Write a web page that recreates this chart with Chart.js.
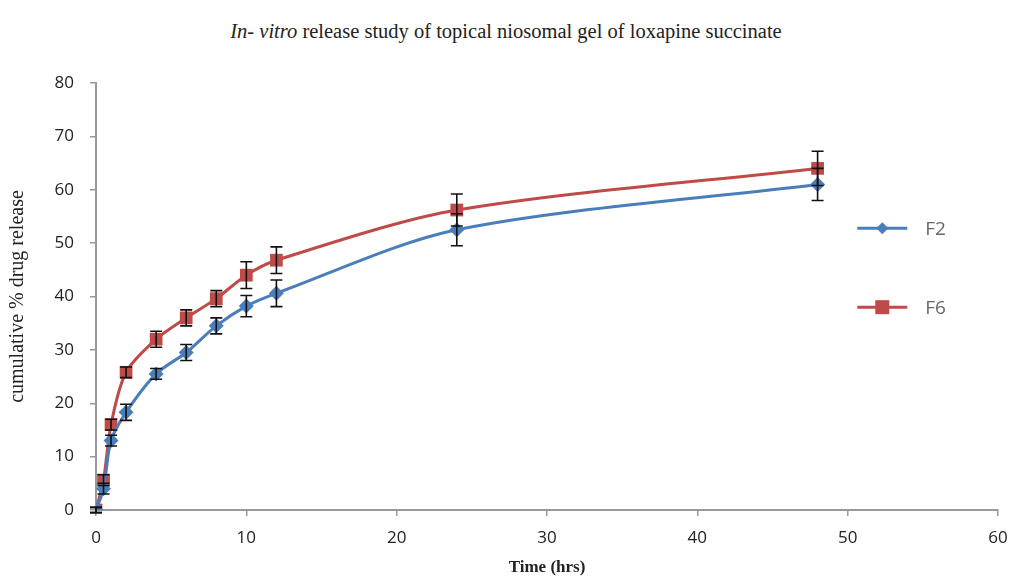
<!DOCTYPE html>
<html>
<head>
<meta charset="utf-8">
<script src="https://cdn.jsdelivr.net/npm/chart.js@4/dist/chart.umd.min.js"></script>
<style>
  html, body { margin: 0; padding: 0; background: #fff; }
  #wrap { position: relative; width: 1012px; height: 580px; }
  #chart-title {
    position: absolute; left: 0; top: 20px; width: 1012px; text-align: center;
    font-family: "Liberation Serif", "DejaVu Serif", serif; font-size: 20.5px; color: #222;
  }
  canvas { position: absolute; left: 0; top: 0; }
</style>
</head>
<body>
<div id="wrap">
  <div id="chart-title"><i>In- vitro</i> release study of topical niosomal gel of loxapine succinate</div>
  <canvas id="releaseChart" width="1012" height="580"></canvas>
</div>
<script>
// time points (hrs)
const timePoints = [0, 0.5, 1, 2, 4, 6, 8, 10, 12, 24, 48];

// cumulative % drug release
const f2Values = [0, 4, 13, 18.3, 25.5, 29.5, 34.5, 38.2, 40.6, 52.5, 61];
const f6Values = [0, 5.6, 16, 25.8, 32, 36, 39.6, 44, 46.8, 56.2, 64];

// standard deviation (error bars)
const f2Errors = [0.5, 1, 1, 1.5, 1, 1.5, 1.5, 2, 2.5, 3, 3];
const f6Errors = [0.5, 1, 1, 1, 1.5, 1.5, 1.5, 2.5, 2.5, 3, 3.2];

const seriesLabels = ["F2", "F6"];
const seriesColors = ["#4a7ebb", "#be4b48"];

const toPoints = (vals) => vals.map((v, i) => ({ x: timePoints[i], y: v }));

// draws vertical error bars with caps
const errorBarPlugin = {
  id: "errorBars",
  afterDatasetsDraw(chart) {
    const ctx = chart.ctx;
    const yScale = chart.scales.y;
    chart.data.datasets.forEach((ds, di) => {
      const meta = chart.getDatasetMeta(di);
      ds.errors.forEach((err, i) => {
        const pt = meta.data[i];
        const val = ds.data[i].y;
        const top = yScale.getPixelForValue(val + err);
        const bottom = yScale.getPixelForValue(val - err);
        ctx.save();
        ctx.strokeStyle = "#111";
        ctx.lineWidth = 1.6;
        ctx.beginPath();
        ctx.moveTo(pt.x, top);
        ctx.lineTo(pt.x, bottom);
        ctx.moveTo(pt.x - 6, top);
        ctx.lineTo(pt.x + 6, top);
        ctx.moveTo(pt.x - 6, bottom);
        ctx.lineTo(pt.x + 6, bottom);
        ctx.stroke();
        ctx.restore();
      });
    });
  },
};

// legend drawn inside the plot on the right, line + marker style
const sideLegendPlugin = {
  id: "sideLegend",
  afterDraw(chart) {
    const ctx = chart.ctx;
    const area = chart.chartArea;
    const rows = [0.34, 0.525];
    chart.data.datasets.forEach((ds, di) => {
      const y = area.top + (area.bottom - area.top) * rows[di];
      const x0 = area.left + (area.right - area.left) * 0.844;
      const x1 = x0 + 50;
      const cx = (x0 + x1) / 2;
      ctx.save();
      ctx.strokeStyle = ds.borderColor;
      ctx.lineWidth = 3;
      ctx.beginPath();
      ctx.moveTo(x0, y);
      ctx.lineTo(x1, y);
      ctx.stroke();
      ctx.fillStyle = ds.backgroundColor;
      if (ds.pointStyle === "rectRot") {
        ctx.beginPath();
        ctx.moveTo(cx, y - 6);
        ctx.lineTo(cx + 6, y);
        ctx.lineTo(cx, y + 6);
        ctx.lineTo(cx - 6, y);
        ctx.closePath();
        ctx.fill();
      } else {
        ctx.fillRect(cx - 7, y - 7, 14, 14);
      }
      ctx.fillStyle = "#666";
      ctx.font = "19px 'Open Sans', sans-serif";
      ctx.textBaseline = "middle";
      ctx.fillText(ds.label, x1 + 18, y + 1);
      ctx.restore();
    });
  },
};

new Chart(document.getElementById("releaseChart"), {
  type: "line",
  data: {
    datasets: [
      {
        label: seriesLabels[0],
        data: toPoints(f2Values),
        errors: f2Errors,
        borderColor: seriesColors[0],
        backgroundColor: seriesColors[0],
        borderWidth: 3,
        pointStyle: "rectRot",
        pointRadius: 7.5,
        pointBorderWidth: 0,
        tension: 0.3,
      },
      {
        label: seriesLabels[1],
        data: toPoints(f6Values),
        errors: f6Errors,
        borderColor: seriesColors[1],
        backgroundColor: seriesColors[1],
        borderWidth: 3,
        pointStyle: "rect",
        pointRadius: 9,
        pointBorderWidth: 0,
        tension: 0.3,
      },
    ],
  },
  options: {
    responsive: false,
    animation: false,
    layout: { padding: { top: 83, right: 14, left: 0, bottom: 0 } },
    plugins: {
      legend: { display: false },
      tooltip: { enabled: false },
    },
    scales: {
      x: {
        type: "linear",
        min: 0,
        max: 60,
        ticks: {
          stepSize: 10,
          color: "#222",
          padding: 12,
          font: { family: "'Open Sans', sans-serif", size: 17 },
        },
        grid: { drawOnChartArea: false, tickLength: 6, color: "#999", lineWidth: 1.5 },
        border: { color: "#999", width: 2 },
        title: {
          display: true,
          text: "Time (hrs)",
          color: "#222",
          padding: { top: 0, bottom: 2 },
          font: { family: "'Liberation Serif', serif", size: 17, weight: "bold" },
        },
        afterFit: (s) => { s.height = 70; s.paddingRight = 0; s.paddingLeft = 0; },
      },
      y: {
        min: 0,
        max: 80,
        ticks: {
          stepSize: 10,
          color: "#222",
          padding: 16,
          font: { family: "'Open Sans', sans-serif", size: 17 },
        },
        grid: { drawOnChartArea: false, tickLength: 6, color: "#999", lineWidth: 1.5 },
        border: { color: "#999", width: 2 },
        title: {
          display: true,
          text: "cumulative % drug release",
          color: "#222",
          padding: { top: 6, bottom: 0 },
          font: { family: "'Liberation Serif', serif", size: 20 },
        },
        afterFit: (s) => { s.width = 96; },
      },
    },
  },
  plugins: [errorBarPlugin, sideLegendPlugin],
});
</script>
</body>
</html>
